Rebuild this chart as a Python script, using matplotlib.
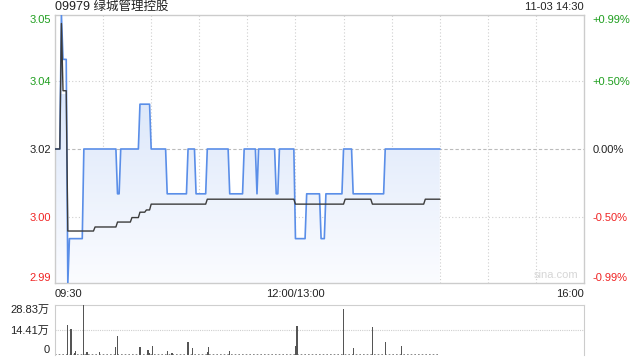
import numpy as np
import matplotlib
matplotlib.use("Agg")
import matplotlib.pyplot as plt
from matplotlib.colors import LinearSegmentedColormap

plt.rcParams['font.family'] = ['Liberation Sans', 'Noto Sans CJK SC', 'DejaVu Sans']

title = "09979 绿城管理控股"
stamp = "11-03 14:30"
prev_close = 3.02
pct_ticks = [-0.99, -0.50, 0.00, 0.50, 0.99]

# price per minute, stored as (level, number of minutes) runs from 09:30
price_levels = [3.02, 3.05, 3.04, 2.99, 3.00, 3.02, 3.01, 3.02, 3.03, 3.02, 3.01,
                3.02, 3.01, 3.02, 3.01, 3.02, 3.01, 3.02, 3.01, 3.02, 3.00, 3.01,
                3.00, 3.01, 3.02, 3.01, 3.02]
price_runs = [4, 1, 3, 1, 9, 21, 2, 12, 7, 10, 13,
              5, 7, 14, 9, 8, 1, 11, 2, 10, 7, 9,
              3, 11, 6, 20, 35]

avg_levels = [3.02, 3.048, 3.033, 3.0017, 3.0026, 3.0037, 3.0047, 3.0059, 3.0064,
              3.0077, 3.0088, 3.0077, 3.0088, 3.0077, 3.0088]
avg_runs = [4, 1, 3, 17, 14, 9, 5, 4, 3, 35, 55, 31, 17, 33, 10]

# volume (万 shares) at minute index
vol_minutes = [8, 10, 12, 13, 18, 20, 28, 38, 39, 53, 58, 59, 61, 70, 73, 83, 86,
               95, 96, 109, 150, 151, 180, 186, 198, 206, 216]
vol_values = [17.1, 15.1, 1.2, 2.4, 28.83, 1.8, 1.8, 4.7, 10.8, 4.7, 2.9, 1.2, 5.3,
              2.4, 1.2, 7.6, 4.1, 1.8, 4.7, 2.4, 5.3, 16.5, 26.5, 4.3, 15.9, 7.6, 5.3]
vol_max = 28.83

price = np.repeat(price_levels, price_runs)
avg = np.repeat(avg_levels, avg_runs)
minutes = np.arange(len(price))

green = '#1e9e1e'
red = '#f02424'
grid_c = '#cfcfcf'
spine_c = '#cccccc'

fig = plt.figure(figsize=(6.4, 3.6), dpi=100)
ax = fig.add_axes([55/640, 1-283/360, 529/640, 268/360])
axv = fig.add_axes([55/640, 1-355/360, 529/640, 50/360])

lo = prev_close*(1+pct_ticks[0]/100)
hi = prev_close*(1+pct_ticks[-1]/100)

# gradient fill under the price line
poly = ax.fill_between(minutes, price, lo, color='none', lw=0)
cmap = LinearSegmentedColormap.from_list('g', ['#fbfcff', '#dce7fa'])
grad = np.linspace(0, 1, 256).reshape(-1, 1)
im = ax.imshow(grad, cmap=cmap, origin='lower', aspect='auto',
               extent=[minutes[0], minutes[-1], lo, prev_close*1.004], zorder=1)
im.set_clip_path(poly.get_paths()[0], transform=ax.transData)

ax.plot(minutes, price, color='#5a8ee8', lw=1.2, zorder=3)
ax.plot(minutes, avg, color='#3c3c3c', lw=1.0, zorder=4)

ax.set_xlim(0, 330)
ax.set_ylim(lo, hi)
for v in range(30, 330, 30):
    ax.axvline(v, color=grid_c, lw=0.8, ls=(0, (1, 2)), zorder=0)
for p in pct_ticks[1:-1]:
    if p == 0:
        ax.axhline(prev_close, color='#bbbbbb', lw=0.8, ls=(0, (3, 2)), zorder=0)
    else:
        ax.axhline(prev_close*(1+p/100), color=grid_c, lw=0.8, ls=(0, (1, 2)), zorder=0)

for s in ax.spines.values():
    s.set_color(spine_c)
    s.set_linewidth(1)

yt = [prev_close*(1+p/100) for p in pct_ticks]
ax.set_yticks(yt)
ax.set_yticklabels(['%.2f' % v for v in yt])
colors = [red, red, '#222222', green, green]
ax.tick_params(axis='y', length=0, pad=3, labelsize=8)
for lab, c in zip(ax.get_yticklabels(), colors):
    lab.set_color(c)
ax.get_yticklabels()[0].set_va('bottom')
ax.get_yticklabels()[-1].set_va('top')

ax.set_xticks([0, 150, 330])
ax.set_xticklabels(['09:30', '12:00/13:00', '16:00'])
ax.tick_params(axis='x', length=0, pad=4, labelsize=8, labelcolor='#222222')
xl = ax.get_xticklabels()
xl[0].set_ha('left')
xl[2].set_ha('right')

axr = ax.twinx()
axr.set_ylim(pct_ticks[0], pct_ticks[-1])
axr.set_yticks(pct_ticks)
axr.set_yticklabels(['%+.2f%%' % p if p != 0 else '0.00%' for p in pct_ticks])
axr.tick_params(axis='y', length=0, pad=6, labelsize=8)
for lab, c in zip(axr.get_yticklabels(), colors):
    lab.set_color(c)
axr.get_yticklabels()[0].set_va('bottom')
axr.get_yticklabels()[-1].set_va('top')
for s in axr.spines.values():
    s.set_visible(False)

ax.text(0.99, 0.012, 'sina.com', transform=ax.transAxes, ha='right', va='bottom',
        fontsize=8, color='#d6d6d6')
fig.text(55/640, 1-7/360, title, ha='left', va='center', fontsize=9, color='#222222')
fig.text(584/640, 1-7/360, stamp, ha='right', va='center', fontsize=8, color='#222222')

# volume panel
axv.bar(vol_minutes, vol_values, width=0.7, color='#555555', zorder=3)
axv.plot([minutes[0], minutes[-1]], [0, 0], color='#777777', lw=1.2,
         ls=(0, (1, 1.2)), zorder=2)
axv.set_xlim(0, 330)
axv.set_ylim(0, vol_max)
axv.axhline(vol_max/2, color=grid_c, lw=0.8, ls=(0, (1, 1)), zorder=0)
axv.set_xticks([])
axv.set_yticks([0, vol_max/2, vol_max])
axv.set_yticklabels(['0', '%.2f万' % (vol_max/2), '%.2f万' % vol_max])
axv.tick_params(axis='y', length=0, pad=4, labelsize=8, labelcolor='#222222')
vl = axv.get_yticklabels()
vl[0].set_va('bottom')
vl[2].set_va('top')
for k in ['left', 'right']:
    axv.spines[k].set_color(spine_c)
axv.spines['top'].set_color(grid_c)
axv.spines['top'].set_linestyle((0, (1, 1)))
axv.spines['bottom'].set_visible(False)

fig.savefig('out.png', dpi=100)
